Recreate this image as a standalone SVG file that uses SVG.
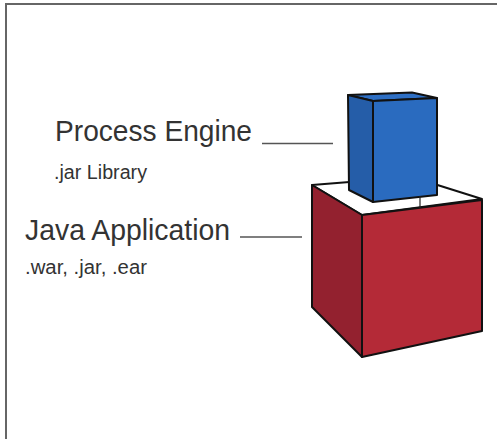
<svg xmlns="http://www.w3.org/2000/svg" width="497" height="439" viewBox="0 0 497 439">
  <style>
    .title { font-family: "Liberation Sans", Arial, sans-serif; font-size: 29px; fill: #333333; }
    .sub { font-family: "Liberation Sans", Arial, sans-serif; font-size: 20px; fill: #333333; }
    .edge { stroke: #111111; stroke-width: 2; stroke-linejoin: round; }
    .leader { stroke: #555555; stroke-width: 1.5; fill: none; }
  </style>
  <rect x="0" y="0" width="497" height="439" fill="#ffffff"/>
  <!-- frame -->
  <path d="M6 439 V4 H497" fill="none" stroke="#666666" stroke-width="2"/>

  <g id="java-application">
    <!-- top face, partly covered by the engine block -->
    <polygon class="edge" points="312,185 412,177 482,199 362,215" fill="#ffffff"/>
    <polygon class="edge" points="312,185 362,215 362,357 312,307" fill="#93212F"/>
    <polygon class="edge" points="362,215 482,200 482,331 362,357" fill="#B42A37"/>
    <text class="title" x="25" y="240" textLength="205" lengthAdjust="spacingAndGlyphs">Java Application</text>
    <text class="sub" x="25" y="274" textLength="122" lengthAdjust="spacingAndGlyphs">.war, .jar, .ear</text>
  </g>

  <g id="process-engine">
    <polygon class="edge" points="348,95 412,92.5 437,98 373,101" fill="#2E6FC4"/>
    <polygon class="edge" points="348,95 373,101 373,202 349,190" fill="#255DA8"/>
    <polygon class="edge" points="373,101 437,98 437,195 373,202" fill="#2A6BBF"/>
    <text class="title" x="55" y="141" textLength="197" lengthAdjust="spacingAndGlyphs">Process Engine</text>
    <text class="sub" x="54" y="179" textLength="93" lengthAdjust="spacingAndGlyphs">.jar Library</text>
  </g>

  <g id="connectors">
    <line class="leader" x1="262" y1="143.5" x2="333" y2="143.5"/>
    <line class="leader" x1="240" y1="237" x2="302" y2="237"/>
    <line x1="420" y1="196" x2="420" y2="208" stroke="#222222" stroke-width="1.2"/>
  </g>
</svg>
